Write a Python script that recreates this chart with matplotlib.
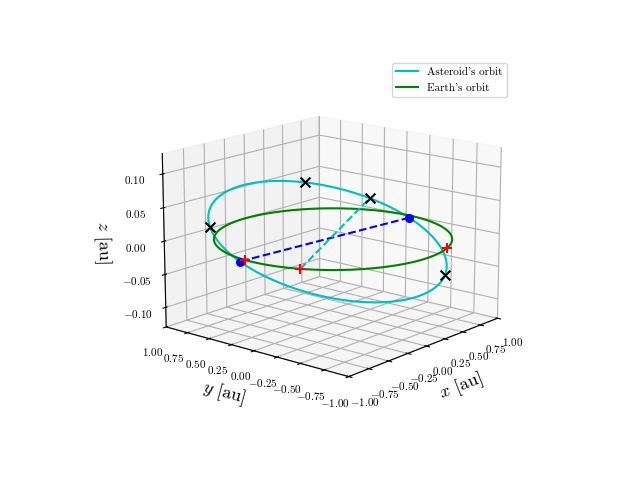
import numpy as np
import matplotlib
matplotlib.use("Agg")
import matplotlib.pyplot as plt

plt.rcParams["font.family"] = "serif"
plt.rcParams["font.serif"] = ["cmr10", "DejaVu Serif"]
plt.rcParams["mathtext.fontset"] = "cm"
plt.rcParams["axes.formatter.use_mathtext"] = True

# orbital elements of the asteroid
a_ast = 1.0
e_ast = 0.06
inc_deg = 3.0
node_deg = -5.0
peri_deg = 0.0

# marker anchors (argument of latitude in degrees / earth angle)
cross_u = [25.0, 60.0, 150.0, 300.0]
plus_earth_deg = [175.0, 205.0, 290.0]

def orbit_xyz(a, e, inc, node, peri, u):
    nu = u - peri
    r = a * (1 - e**2) / (1 + e * np.cos(nu))
    x = r * (np.cos(node) * np.cos(u) - np.sin(node) * np.sin(u) * np.cos(inc))
    y = r * (np.sin(node) * np.cos(u) + np.cos(node) * np.sin(u) * np.cos(inc))
    z = r * np.sin(u) * np.sin(inc)
    return x, y, z

inc, node, peri = np.radians([inc_deg, node_deg, peri_deg])
u = np.linspace(0, 2 * np.pi, 400)
xa, ya, za = orbit_xyz(a_ast, e_ast, inc, node, peri, u)
th = np.linspace(0, 2 * np.pi, 400)
xe, ye, ze = np.cos(th), np.sin(th), np.zeros_like(th)

fig = plt.figure(figsize=(6.4, 4.8))
ax = fig.add_subplot(111, projection="3d")
ax.plot(xa, ya, za, color="c", label="Asteroid's orbit")
ax.plot(xe, ye, ze, color="g", label="Earth's orbit")

# line of nodes
n1 = orbit_xyz(a_ast, e_ast, inc, node, peri, 0.0)
n2 = orbit_xyz(a_ast, e_ast, inc, node, peri, np.pi)
ax.plot([n1[0], n2[0]], [n1[1], n2[1]], [0, 0], "b--")
ax.scatter([n2[0]], [n2[1]], [0], color="b", s=30, depthshade=False)
ax.scatter([n1[0]], [n1[1]], [0], color="b", s=30, depthshade=False)

cx, cy, cz = orbit_xyz(a_ast, e_ast, inc, node, peri, np.radians(cross_u))
ax.scatter(cx, cy, cz, marker="x", color="k", s=50, depthshade=False)

pe = np.radians(plus_earth_deg)
ax.scatter(np.cos(pe), np.sin(pe), np.zeros_like(pe), marker="+", color="r", s=60, depthshade=False)
ax.plot([np.cos(pe[1]), cx[0]], [np.sin(pe[1]), cy[0]], [0, cz[0]], "c--")

ax.set_xlim(-1, 1)
ax.set_ylim(-1, 1)
ax.set_zlim(-0.13, 0.13)
ax.set_xticks([-1, -0.75, -0.5, -0.25, 0, 0.25, 0.5, 0.75, 1])
ax.set_yticks([-1, -0.75, -0.5, -0.25, 0, 0.25, 0.5, 0.75, 1])
ax.set_zticks([-0.1, -0.05, 0, 0.05, 0.1])
ax.tick_params(labelsize=8)
ax.set_xlabel("$x$ [au]", fontsize=13)
ax.set_ylabel("$y$ [au]", fontsize=13)
ax.set_zlabel("$z$ [au]", fontsize=13)
ax.view_init(elev=15, azim=-140)
ax.legend(loc="upper right", fontsize=8)
plt.savefig("out.png", dpi=100)
